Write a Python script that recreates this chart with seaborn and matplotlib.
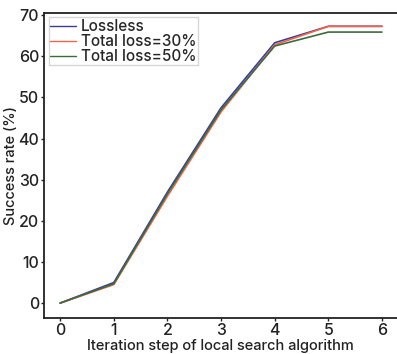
import matplotlib
matplotlib.use("Agg")
import matplotlib.pyplot as plt
import seaborn as sns
import pandas as pd

steps = [0, 1, 2, 3, 4, 5, 6]
lossless = [0, 5.0, 27.0, 47.5, 63.3, 67.3, 67.3]
loss30 = [0, 4.5, 26.0, 46.5, 62.8, 67.3, 67.3]
loss50 = [0, 4.7, 26.6, 47.0, 62.5, 65.9, 65.9]
series_names = ["Lossless", "Total loss=30%", "Total loss=50%"]
colors = ["#3b3b9b", "#f2634a", "#3d6b3d"]

df = pd.DataFrame({
    "step": steps * 3,
    "rate": lossless + loss30 + loss50,
    "series": [series_names[0]] * 7 + [series_names[1]] * 7 + [series_names[2]] * 7,
})

sns.set_style("white")
plt.rcParams["font.family"] = ["Inter", "DejaVu Sans"]

fig = plt.figure(figsize=(3.97, 3.54), dpi=100)
ax = fig.add_axes([0.111, 0.102, 0.889, 0.862])
sns.lineplot(data=df, x="step", y="rate", hue="series", palette=colors,
             linewidth=1.2, ax=ax)

ax.set_xlim(-0.3, 6.28)
ax.set_ylim(-3.6, 70.6)
ax.set_xticks(steps)
ax.set_yticks([0, 10, 20, 30, 40, 50, 60, 70])
ax.tick_params(axis="both", labelsize=11.5, length=2.5, width=1, direction="out",
               left=True, bottom=True, pad=1, colors="#222222")
for lbl in ax.get_xticklabels() + ax.get_yticklabels():
    lbl.set_fontweight("medium")
ax.set_xlabel("Iteration step of local search algorithm", fontsize=10.5,
              fontweight="medium", labelpad=1, color="#222222")
ax.set_ylabel("Success rate (%)", fontsize=10.5, fontweight="medium",
              color="#222222")
ax.yaxis.set_label_coords(-0.075, 0.5)

ax.spines["right"].set_visible(False)
for s in ["left", "top", "bottom"]:
    ax.spines[s].set_color("#222222")
    ax.spines[s].set_linewidth(1.3)

leg = ax.legend(loc="upper left", fontsize=11, frameon=True, handlelength=1.7,
                handletextpad=0.3, labelspacing=0.0, borderpad=0.1,
                borderaxespad=0.3, title=None, fancybox=False)
leg.get_frame().set_edgecolor("#cccccc")
for line in leg.get_lines():
    line.set_linewidth(1.0)
for t in leg.get_texts():
    t.set_fontweight("medium")

fig.savefig("out.png", dpi=100)
